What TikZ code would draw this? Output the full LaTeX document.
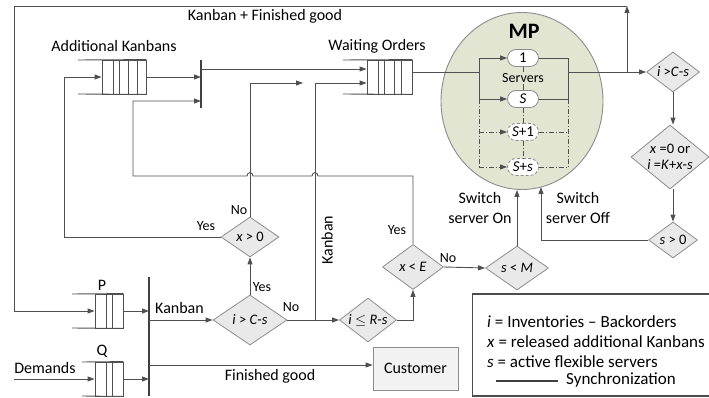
\documentclass[tikz,border=0pt]{standalone}
\usepackage{fontspec}
\setmainfont{Carlito}
\usetikzlibrary{shapes.geometric,shapes.misc,arrows.meta,calc}
\definecolor{linec}{RGB}{80,80,80}
\definecolor{diaf}{RGB}{233,233,233}
\definecolor{diad}{RGB}{140,140,140}
\definecolor{mpf}{RGB}{226,229,210}
\definecolor{custf}{RGB}{242,242,242}
\begin{document}
\begin{tikzpicture}[x=1pt,y=-1pt,
  ln/.style={draw=linec, line width=0.9pt},
  arr/.style={ln, -{Triangle[length=7pt,width=5pt]}},
  dia/.style={diamond, draw=diad, fill=diaf, line width=0.8pt, inner sep=0pt},
  txt/.style={inner sep=0pt, font=\fontsize{16}{20}\selectfont},
  lgt/.style={inner sep=0pt, font=\fontsize{17}{20}\selectfont, anchor=west},
  yn/.style={inner sep=0pt, font=\fontsize{14}{16}\selectfont},
  dtxt/.style={inner sep=0pt, font=\fontsize{14.5}{17}\selectfont, align=center},
  qbox/.style={draw=linec, line width=0.9pt, inner sep=0pt},
  syncbar/.style={draw=black!75, line width=2.2pt},
  srv/.style={rounded rectangle, draw=diad, fill=white, line width=0.8pt, minimum width=33pt, minimum height=17pt, inner sep=1pt, font=\fontsize{15}{17}\selectfont},
  srvdash/.style={dash pattern=on 3pt off 2pt},
  dd/.style={dash pattern=on 5pt off 2pt on 1pt off 2pt}
]
\useasboundingbox (0,0) rectangle (709,398);
\fill[white] (0,0) rectangle (709,398);

% ---------- MP machine ----------
\node[ellipse, draw=diad, fill=mpf, line width=0.9pt, minimum width=162pt, minimum height=177pt, inner sep=0pt] (mp) at (522,101) {};
\node[inner sep=0pt, font=\fontsize{22}{24}\selectfont\bfseries] (mplab) at (524,31) {MP};
\node[srv] (s1) at (523,58) {1};
\node[yn, inner sep=1.5pt] (srvt) at (523,78) {Servers};
\node[srv] (sS) at (523,99) {\textit{S}};
\node[srv, srvdash] (sS1) at (523,132) {\textit{S}+1};
\node[srv, srvdash] (sSs) at (523,167) {\textit{S}+\textit{s}};
\coordinate (lb1) at (479,58); \coordinate (lb2) at (479,99);
\coordinate (lb3) at (479,132); \coordinate (lb4) at (479,167);
\coordinate (rb1) at (568,58); \coordinate (rb2) at (568,99);
\coordinate (rb3) at (568,132); \coordinate (rb4) at (568,167);
\draw[ln] (lb1) -- (lb2);
\draw[arr] (lb1) -- (s1.west);
\draw[arr] (lb2) -- (sS.west);
\draw[ln] (s1.east) -- (rb1) -- (rb2) -- (sS.east);
\draw[ln] (s1.south) -- (srvt.north);
\draw[ln] (srvt.south) -- (sS.north);
\draw[ln, dd] (lb2) -- (lb4);
\draw[ln, dd] (rb2) -- (rb4);
\draw[arr, dd] (lb3) -- (sS1.west);
\draw[arr, dd] (lb4) -- (sSs.west);
\draw[ln, dd] (sS1.east) -- (rb3);
\draw[ln, dd] (sSs.east) -- (rb4);
\draw[ln, dd] (sS.south) -- (sS1.north);
\draw[ln, dd] (sS1.south) -- (sSs.north);

% ---------- queues ----------
\node[qbox, minimum width=44pt, minimum height=34pt] (akq) at (124,77) {};
\draw[ln] (78,60) -- (akq.north east) (78,94) -- (akq.south east);
\foreach \xx in {113,119,128,137} \draw[ln] (\xx,60) -- (\xx,94);
\node[qbox, minimum width=45pt, minimum height=34pt] (woq) at (389.5,77) {};
\draw[ln] (343,60) -- (woq.north east) (343,94) -- (woq.south east);
\foreach \xx in {378,384,394,401} \draw[ln] (\xx,60) -- (\xx,94);
\node[qbox, minimum width=28pt, minimum height=34pt] (pq) at (109,311) {};
\draw[ln] (72,294) -- (pq.north east) (72,328) -- (pq.south east);
\foreach \xx in {106,112} \draw[ln] (\xx,294) -- (\xx,328);
\node[qbox, minimum width=28pt, minimum height=34pt] (qq) at (109,379) {};
\draw[ln] (82,362) -- (qq.north east) (82,396) -- (qq.south east);
\foreach \xx in {106,112} \draw[ln] (\xx,362) -- (\xx,396);

% ---------- synchronisation bars ----------
\coordinate (b1t) at (201,60); \coordinate (b1b) at (201,108);
\draw[syncbar] (b1t) -- (b1b);
\coordinate (b2t) at (149,277); \coordinate (b2b) at (149,396);
\draw[syncbar] (b2t) -- (b2b);

% ---------- decisions ----------
\node[dia, minimum width=53pt, minimum height=40pt] (d1) at (673,72) {};
\node[dtxt] (t1) at (d1) {\textit{i} >\textit{C}-\textit{s}};
\node[dia, minimum width=78pt, minimum height=64pt] (d2) at (670,157) {};
\node[dtxt] (t2) at (d2) {\textit{x} =0 or\\[-1pt]\textit{i} =\textit{K}+\textit{x}-\textit{s}};
\node[dia, minimum width=49pt, minimum height=36pt] (d3) at (673,240) {};
\node[dtxt] (t3) at (d3) {\textit{s} > 0};
\node[dia, minimum width=63pt, minimum height=44pt] (d4) at (517,268) {};
\node[dtxt] (t4) at (d4) {\textit{s} < \textit{M}};
\node[dia, minimum width=61pt, minimum height=45pt] (d5) at (413,267) {};
\node[dtxt] (t5) at (d5) {\textit{x} < \textit{E}};
\node[dia, minimum width=57pt, minimum height=44pt] (d6) at (368,320) {};
\node[dtxt] (t6) at (d6) {\textit{i} $\leq$ \textit{R}-\textit{s}};
\node[dia, minimum width=74pt, minimum height=50pt] (d7) at (250,320) {};
\node[dtxt] (t7) at (d7) {\textit{i} > \textit{C}-\textit{s}};
\node[dia, minimum width=58pt, minimum height=40pt] (d8) at (250,237) {};
\node[dtxt] (t8) at (d8) {\textit{x} > 0};

% ---------- customer ----------
\node[draw=diad, fill=custf, line width=0.8pt, minimum width=85pt, minimum height=43pt, txt] (cust) at (415.5,368.5) {Customer};

% ---------- connectors ----------
\coordinate (mpin) at (479,72);
\coordinate (mpout) at (568,72);
\coordinate (br) at (627,72);
\coordinate (tr) at (627,6);
\coordinate (tl) at (14,6);
\coordinate (pl) at (14,311);
\draw[ln] (woq.east |- mpin) -- (mpin);
\draw[arr] (mpout) -- (d1.west);
\draw[arr] (br) -- (tr);
\draw[arr] (tr) -- (tl) -- (pl) -- (pq.west);
\draw[arr] (d1.south) -- (d1.south |- d2.north);
\draw[arr] (d3.north |- d2.south) -- (d3.north);
\coordinate (offup) at (541,187);
\draw[arr] (d3.west) -| (offup);
\draw[arr] (d4.north) -- (d4.north |- mp.south);
\draw[arr] (d5.east) -- (d4.west);
\draw[arr] (d6.east) -| (d5.south);
\coordinate (kbj) at (315,320);
\coordinate (kbt) at (315,83);
\draw[arr] (d7.east) -- (d6.west);
\draw[arr] (kbj) -- (kbt) -- (woq.west |- kbt);
\draw[arr] (d7.north) -- (d8.south);
\coordinate (not) at (250,83);
\coordinate (noend) at (303,83);
\draw[arr] (d8.north) -- (not) -- (noend);
\coordinate (yl) at (64,237);
\coordinate (yt) at (64,77);
\draw[arr] (d8.west) -- (yl) -- (yt) -- (akq.west);
\coordinate (ytop) at (413,176);
\coordinate (yc) at (133,176);
\coordinate (yu) at (133,101);
\draw[arr] (d5.north) -- (ytop) -- (318,176) .. controls (318,171.5) and (312,171.5) .. (312,176)
  -- (253,176) .. controls (253,171.5) and (247,171.5) .. (247,176) -- (yc) -- (yu) -- (yu -| b1t);
\draw[arr] (akq.east) -- (akq.east -| b1t);
\draw[arr] (201,69) -- (woq.west |- 0,69);
\coordinate (dl) at (14,379);
\draw[arr] (dl) -- (qq.west);
\draw[arr] (pq.east) -- (pq.east -| b2t);
\draw[arr] (qq.east) -- (qq.east -| b2t);
\coordinate (kbs) at (149,320);
\draw[arr] (kbs) -- (d7.west);
\coordinate (fgs) at (149,365);
\draw[arr] (fgs) -- (fgs -| cust.west);

% ---------- labels ----------
\node[txt] (lkf) at (265,16) {Kanban + Finished good};
\node[txt] (lak) at (114,46) {Additional Kanbans};
\node[txt] (lwo) at (377,46) {Waiting Orders};
\node[txt] (lp) at (102,285) {P};
\node[txt] (lq) at (102,351) {Q};
\node[txt] (ldm) at (45,368) {Demands};
\node[txt, anchor=west] (lkb) at (155,308) {Kanban};
\node[txt] (lfg) at (270,376) {Finished good};
\node[txt, rotate=90] (lkv) at (327,240) {Kanban};
\node[txt, align=center] (lon) at (480,208) {Switch\\server On};
\node[txt, align=center] (loff) at (578,208) {Switch\\server Off};
\node[yn] (n7) at (291,307) {No};
\node[yn] (y7) at (262,287) {Yes};
\node[yn] (n8) at (239,210) {No};
\node[yn] (y8) at (206,226) {Yes};
\node[yn] (y5) at (397,230) {Yes};
\node[yn] (n5) at (448,258) {No};

% ---------- legend ----------
\node[draw=black!70, line width=1.1pt, fill=white, minimum width=244pt, minimum height=102pt, inner sep=0pt] (leg) at (594.5,345) {};
\node[lgt] (l1) at (487,322) {\textit{i} = Inventories – Backorders};
\node[lgt] (l2) at (487,342) {\textit{x} = released additional Kanbans};
\node[lgt] (l3) at (487,362) {\textit{s} = active flexible servers};
\coordinate (sl1) at (496,381); \coordinate (sl2) at (558,381);
\draw[draw=black!75, line width=1.2pt] (sl1) -- (sl2);
\node[lgt] (l4) at (566,380) {Synchronization};
\end{tikzpicture}
\end{document}
